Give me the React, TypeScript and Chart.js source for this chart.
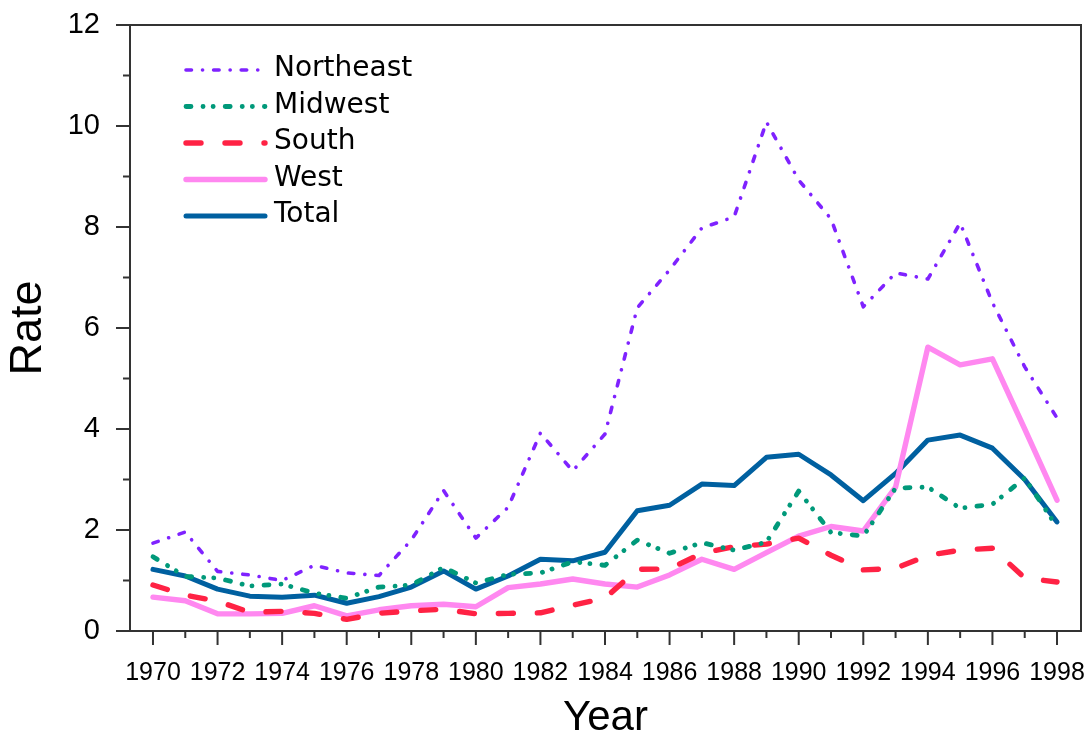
import React, { useEffect, useRef } from "react";
import { Chart, registerables } from "chart.js";

Chart.register(...registerables);

const years: number[] = [
  1970, 1971, 1972, 1973, 1974, 1975, 1976, 1977, 1978, 1979,
  1980, 1981, 1982, 1983, 1984, 1985, 1986, 1987, 1988, 1989,
  1990, 1991, 1992, 1993, 1994, 1995, 1996, 1997, 1998,
];

const northeast: number[] = [
  1.74, 1.96, 1.18, 1.11, 1.0, 1.3, 1.15, 1.1, 1.8, 2.78,
  1.84, 2.45, 3.92, 3.17, 3.9, 6.4, 7.15, 7.98, 8.2, 10.08,
  8.93, 8.16, 6.42, 7.09, 6.97, 8.08, 6.5, 5.23, 4.22,
];

const midwest: number[] = [
  1.47, 1.08, 1.05, 0.89, 0.93, 0.75, 0.65, 0.87, 0.91, 1.26,
  0.95, 1.12, 1.15, 1.37, 1.3, 1.8, 1.54, 1.75, 1.6, 1.76,
  2.77, 1.95, 1.88, 2.83, 2.85, 2.43, 2.51, 3.03, 2.06,
];

const south: number[] = [
  0.91, 0.71, 0.59, 0.37, 0.39, 0.35, 0.23, 0.35, 0.4, 0.43,
  0.34, 0.35, 0.36, 0.51, 0.65, 1.22, 1.23, 1.54, 1.67, 1.72,
  1.84, 1.5, 1.21, 1.24, 1.5, 1.6, 1.64, 1.05, 0.97,
];

const west: number[] = [
  0.67, 0.6, 0.34, 0.34, 0.35, 0.5, 0.3, 0.42, 0.5, 0.53,
  0.48, 0.86, 0.93, 1.03, 0.93, 0.87, 1.11, 1.42, 1.22, 1.55,
  1.88, 2.07, 1.98, 2.85, 5.62, 5.27, 5.39, 4.0, 2.59,
];

const total: number[] = [
  1.22, 1.09, 0.83, 0.69, 0.67, 0.71, 0.55, 0.68, 0.87, 1.19,
  0.83, 1.09, 1.42, 1.39, 1.56, 2.38, 2.49, 2.91, 2.88, 3.44,
  3.5, 3.09, 2.58, 3.12, 3.78, 3.88, 3.62, 3.0, 2.16,
];

const seriesLabels: string[] = ["Northeast", "Midwest", "South", "West", "Total"];

const yMin = 0;
const yMax = 12;

export default function App() {
  const ref = useRef<HTMLCanvasElement>(null);

  useEffect(() => {
    const canvas = ref.current;
    if (!canvas) return;
    const axisColor = "#333333";

    const frameTicks = {
      id: "frameTicks",
      afterDraw(chart: any) {
        const { ctx, chartArea, scales } = chart;
        const xs = scales.x;
        const ys = scales.y;
        ctx.save();
        ctx.strokeStyle = axisColor;
        ctx.lineWidth = 2;
        ctx.setLineDash([]);
        ctx.lineCap = "butt";
        ctx.strokeRect(
          chartArea.left,
          chartArea.top,
          chartArea.right - chartArea.left,
          chartArea.bottom - chartArea.top
        );
        ctx.beginPath();
        for (let v = yMin; v <= yMax; v++) {
          const py = ys.getPixelForValue(v);
          const len = v % 2 === 0 ? 14 : 7;
          ctx.moveTo(chartArea.left - len, py);
          ctx.lineTo(chartArea.left, py);
        }
        years.forEach((yr) => {
          const px = xs.getPixelForValue(yr);
          const len = yr % 2 === 0 ? 14 : 7;
          ctx.moveTo(px, chartArea.bottom);
          ctx.lineTo(px, chartArea.bottom + len);
        });
        ctx.stroke();
        ctx.restore();
      },
    };

    const innerLegend = {
      id: "innerLegend",
      afterDraw(chart: any) {
        const { ctx } = chart;
        ctx.save();
        chart.data.datasets.forEach((ds: any, i: number) => {
          const y = 70 + i * 36.5;
          ctx.beginPath();
          ctx.strokeStyle = ds.borderColor;
          ctx.lineWidth = ds.borderWidth;
          ctx.lineCap = ds.borderCapStyle || "butt";
          ctx.setLineDash(ds.borderDash || []);
          ctx.moveTo(186, y);
          ctx.lineTo(265, y);
          ctx.stroke();
          ctx.setLineDash([]);
          ctx.fillStyle = "#000000";
          ctx.font = '28px "DejaVu Sans"';
          ctx.textBaseline = "middle";
          ctx.textAlign = "left";
          ctx.fillText(ds.label, 274, y - 1);
        });
        ctx.restore();
      },
    };

    const zeroPad = (scale: any) => {
      scale.paddingTop = 0;
      scale.paddingBottom = 0;
      scale.paddingLeft = 0;
      scale.paddingRight = 0;
    };

    const toPts = (arr: number[]) => years.map((yr, i) => ({ x: yr, y: arr[i] }));

    const chart = new Chart(canvas, {
      type: "line",
      data: {
        datasets: [
          {
            label: seriesLabels[0],
            data: toPts(northeast),
            borderColor: "#7f22ff",
            borderWidth: 3.6,
            borderDash: [5.5, 11, 0.1, 11],
            borderCapStyle: "round",
            borderJoinStyle: "round",
            pointRadius: 0,
            tension: 0,
          },
          {
            label: seriesLabels[1],
            data: toPts(midwest),
            borderColor: "#00997a",
            borderWidth: 4.8,
            borderDash: [5, 12, 0.1, 10, 0.1, 12],
            borderCapStyle: "round",
            borderJoinStyle: "round",
            pointRadius: 0,
            tension: 0,
          },
          {
            label: seriesLabels[2],
            data: toPts(south),
            borderColor: "#ff2244",
            borderWidth: 5.4,
            borderDash: [15, 24],
            borderCapStyle: "round",
            borderJoinStyle: "round",
            pointRadius: 0,
            tension: 0,
          },
          {
            label: seriesLabels[3],
            data: toPts(west),
            borderColor: "#ff88f0",
            borderWidth: 5.4,
            borderCapStyle: "round",
            borderJoinStyle: "round",
            pointRadius: 0,
            tension: 0,
          },
          {
            label: seriesLabels[4],
            data: toPts(total),
            borderColor: "#0060a0",
            borderWidth: 5,
            borderCapStyle: "round",
            borderJoinStyle: "round",
            pointRadius: 0,
            tension: 0,
          },
        ],
      } as any,
      options: {
        animation: false,
        responsive: false,
        maintainAspectRatio: false,
        layout: { padding: { left: 0, top: 25, right: 8, bottom: 0 } },
        plugins: {
          legend: { display: false },
          tooltip: { enabled: false },
        },
        scales: {
          x: {
            type: "linear",
            min: 1969.288,
            max: 1998.743,
            afterBuildTicks: (scale: any) => {
              scale.ticks = years.map((v) => ({ value: v }));
            },
            afterFit: (scale: any) => {
              scale.height = 103;
              zeroPad(scale);
            },
            grid: {
              display: true,
              drawOnChartArea: false,
              drawTicks: true,
              tickLength: 14,
              tickColor: "rgba(0,0,0,0)",
            },
            border: { display: false },
            ticks: {
              autoSkip: false,
              maxRotation: 0,
              minRotation: 0,
              padding: 13,
              color: "#000000",
              font: { family: "Liberation Sans", size: 25 },
              callback: (v: any) => (Number(v) % 2 === 0 ? String(v) : ""),
            },
            title: {
              display: true,
              text: "Year",
              color: "#000000",
              font: { family: "Liberation Sans", size: 42, lineHeight: 0.76 },
              padding: { top: 0, bottom: 0 },
            },
          },
          y: {
            type: "linear",
            min: yMin,
            max: yMax,
            afterFit: (scale: any) => {
              scale.width = 130;
              zeroPad(scale);
            },
            grid: {
              display: true,
              drawOnChartArea: false,
              drawTicks: true,
              tickLength: 14,
              tickColor: "rgba(0,0,0,0)",
            },
            border: { display: false },
            ticks: {
              stepSize: 1,
              padding: 16,
              color: "#000000",
              font: { family: "Liberation Sans", size: 29 },
              callback: (v: any) => (Number(v) % 2 === 0 ? String(v) : ""),
            },
            title: {
              display: true,
              text: "Rate",
              color: "#000000",
              font: { family: "Liberation Sans", size: 45 },
              padding: { top: 2, bottom: 0 },
            },
          },
        },
      } as any,
      plugins: [frameTicks, innerLegend],
    });

    return () => {
      chart.destroy();
    };
  }, []);

  return (
    <div
      style={{
        position: "absolute",
        left: 0,
        top: 0,
        width: 1089,
        height: 734,
        background: "#ffffff",
      }}
    >
      <canvas ref={ref} width={1089} height={734} style={{ display: "block" }} />
    </div>
  );
}
